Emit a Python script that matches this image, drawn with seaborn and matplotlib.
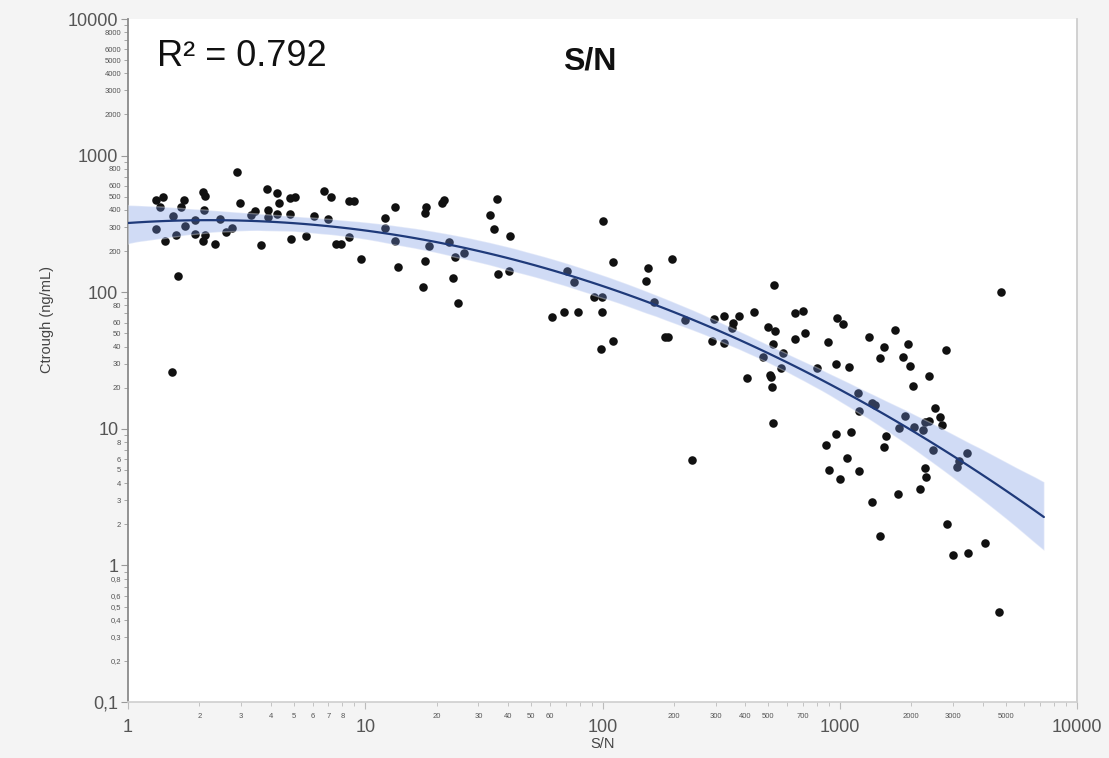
import numpy as np
import pandas as pd
import matplotlib
matplotlib.use("Agg")
import matplotlib.pyplot as plt
import seaborn as sns

# ---- data ----
sn_values = [1.31, 1.41, 1.36, 1.31, 1.43, 1.63, 1.53, 1.55, 1.60, 1.67,
             1.72, 1.74, 1.92, 1.92, 2.07, 2.12, 2.09, 2.12, 2.07, 2.33,
             2.45, 2.59, 2.75, 2.89, 2.97, 3.31, 3.44, 3.65, 3.86, 3.90,
             3.90, 4.26, 4.34, 4.26, 4.83, 5.08, 4.83, 4.88, 5.65, 6.1,
             6.73, 7.2, 7.0, 7.56, 7.94, 8.5, 8.5, 9.0, 9.55, 12.1,
             12.1, 13.3, 13.3, 13.8,
             17.8, 18.1, 21.0, 21.4, 18.5, 17.8, 17.6, 22.5, 24.0, 26.0,
             23.4, 24.5, 35.8, 33.5, 34.8, 40.7, 36.2, 40.3, 70.8, 75.8,
             61.2, 68.8, 78.8, 92, 99.5, 99.5, 98.6, 111, 100.5, 111,
             156, 153, 197, 165, 223, 184, 189, 239,
             530, 296, 326, 356, 377, 352, 290, 326, 436, 500,
             535, 525, 476, 579, 567, 510, 515, 520, 408, 525,
             650, 703, 717, 650, 798, 888, 978, 1037, 960, 1089,
             1322, 1530, 1472, 1189, 1362, 1402, 1211, 960, 1110, 879,
             1068, 905, 1007, 1200, 1560, 1530, 1362, 1472,
             4775, 1703, 1933, 1841, 1972, 2797, 2371, 2028, 2513, 2638,
             2690, 2371, 2280, 1877, 1771, 2048, 2237, 2465, 3430, 3112,
             3175, 2280, 2303, 2172, 1754, 2825, 4085, 2993, 3467, 4688]

ctrough_values = [473, 498, 421, 290, 237, 131, 26, 361, 262, 421,
                  473, 305, 338, 267, 542, 506, 400, 262, 237, 225,
                  343, 276, 295, 758, 450, 367, 393, 222, 570, 400,
                  355, 532, 450, 374, 489, 498, 374, 245, 258, 361,
                  551, 498, 343, 225, 225, 254, 465, 465, 175, 349,
                  295, 421, 237, 153,
                  380, 421, 450, 473, 218, 169, 109, 233, 181, 194,
                  127, 83, 481, 367, 290, 258, 136, 143, 143, 119,
                  65.8, 71.6, 71.6, 92, 92, 71.6, 38.4, 44, 332, 166,
                  150, 121, 175, 84.8, 62.6, 47, 47, 5.9,
                  113, 63.7, 67, 59.5, 67, 54.7, 44, 42.5, 71.6, 55.6,
                  52, 41.8, 33.5, 35.9, 27.9, 24.8, 23.9, 20.2, 23.5, 11.0,
                  70.4, 72.8, 50.3, 45.4, 27.9, 43.2, 64.7, 58.5, 29.8, 28.3,
                  47, 39.7, 33, 18.3, 15.4, 14.9, 13.5, 9.16, 9.48, 7.6,
                  6.1, 5.0, 4.29, 4.91, 8.86, 7.36, 2.91, 1.64,
                  100, 52.9, 41.8, 33.5, 28.8, 37.8, 24.4, 20.6, 14.2, 12.2,
                  10.7, 11.4, 11.2, 12.4, 10.1, 10.3, 9.8, 7.0, 6.65, 5.25,
                  5.81, 5.16, 4.44, 3.62, 3.33, 2.01, 1.46, 1.19, 1.23, 0.456]

x_major = [1, 10, 100, 1000, 10000]
x_major_labels = ["1", "10", "100", "1000", "10000"]
y_major = [0.1, 1, 10, 100, 1000, 10000]
y_major_labels = ["0,1", "1", "10", "100", "1000", "10000"]
x_minor_labeled = [2, 3, 4, 5, 6, 7, 8, 20, 30, 40, 50, 60, 200, 300, 400, 500, 700, 2000, 3000, 5000]
y_minor_labeled = [0.2, 0.3, 0.4, 0.5, 0.6, 0.8, 2, 3, 4, 5, 6, 8, 20, 30, 40, 50, 60, 80,
                   200, 300, 400, 500, 600, 800, 2000, 3000, 4000, 5000, 6000, 8000]
r2_text = "R\u00b2 = 0.792"
title_text = "S/N"
x_label = "S/N"
y_label = "Ctrough (ng/mL)"
fit_end_sn = 7250

# ---- figure ----
sns.set_theme(style="white")
plt.rcParams["font.family"] = ["Liberation Sans", "DejaVu Sans"]

fig = plt.figure(figsize=(11.09, 7.58), dpi=100, facecolor="#f4f4f4")
ax = fig.add_axes([128 / 1109, 1 - 702 / 758, (1077 - 128) / 1109, (702 - 19) / 758])
ax.set_facecolor("white")

df = pd.DataFrame({"logSN": np.log10(sn_values), "logC": np.log10(ctrough_values)})

ax.set_xlim(0, np.log10(fit_end_sn))
sns.regplot(data=df, x="logSN", y="logC", order=2, ci=95, n_boot=1000, seed=1,
            truncate=False, ax=ax, color="#1f3a7a",
            scatter_kws=dict(s=38, color="#111111", alpha=1, linewidths=0, zorder=2),
            line_kws=dict(lw=1.6, color="#1f3a7a", zorder=4))
for coll in ax.collections[1:]:
    coll.set_facecolor("#7393e3")
    coll.set_alpha(0.33)
    coll.set_zorder(3)

ax.set_xlim(0, 4)
ax.set_ylim(-1, 4)

# ticks
def fmt(v):
    s = ("%g" % v)
    return s.replace(".", ",")

ax.set_xticks(np.log10(x_major))
ax.set_xticklabels(x_major_labels)
ax.set_yticks(np.log10(y_major))
ax.set_yticklabels(y_major_labels)

x_minor_all, x_minor_lab = [], []
for d in [1, 10, 100, 1000]:
    for m in range(2, 10):
        v = m * d
        x_minor_all.append(np.log10(v))
        x_minor_lab.append(fmt(v) if v in x_minor_labeled else "")
ax.set_xticks(x_minor_all, minor=True)
ax.set_xticklabels(x_minor_lab, minor=True)

y_minor_all, y_minor_lab = [], []
for d in [0.1, 1, 10, 100, 1000]:
    for m in range(2, 10):
        v = round(m * d, 6)
        y_minor_all.append(np.log10(v))
        y_minor_lab.append(fmt(v) if any(abs(v - t) < 1e-9 for t in y_minor_labeled) else "")
ax.set_yticks(y_minor_all, minor=True)
ax.set_yticklabels(y_minor_lab, minor=True)

ax.tick_params(axis="x", which="major", direction="out", length=5, width=0.8, color="#bbbbbb",
               labelsize=13, labelcolor="#555555", pad=7, bottom=True)
ax.tick_params(axis="x", which="minor", direction="out", length=3, width=0.6, color="#bbbbbb",
               labelsize=5.5, labelcolor="#555555", pad=5, bottom=True)
ax.tick_params(axis="y", which="major", direction="out", length=5, width=0.8, color="#999999",
               labelsize=13, labelcolor="#555555", pad=2, left=True)
ax.tick_params(axis="y", which="minor", direction="out", length=3, width=0.6, color="#999999",
               labelsize=5.5, labelcolor="#555555", pad=2, left=True)
ax.grid(False)

ax.spines["top"].set_visible(False)
ax.spines["left"].set_color("#8a8a8a")
ax.spines["left"].set_linewidth(1.3)
ax.spines["bottom"].set_color("#d0d0d0")
ax.spines["right"].set_color("#cccccc")

ax.set_xlabel(x_label, fontsize=10.5, color="#444444", labelpad=1)
ax.set_ylabel(y_label, fontsize=10.5, color="#444444")
ax.yaxis.set_label_coords(-0.078, 0.56)

fig.text(157 / 1109, 1 - 57 / 758, r2_text, fontsize=26, color="#111111", va="center", ha="left")
fig.text(590 / 1109, 1 - 62 / 758, title_text, fontsize=23, fontweight="bold", color="#111111",
         va="center", ha="center")

fig.savefig("out.png", dpi=100, facecolor=fig.get_facecolor())
